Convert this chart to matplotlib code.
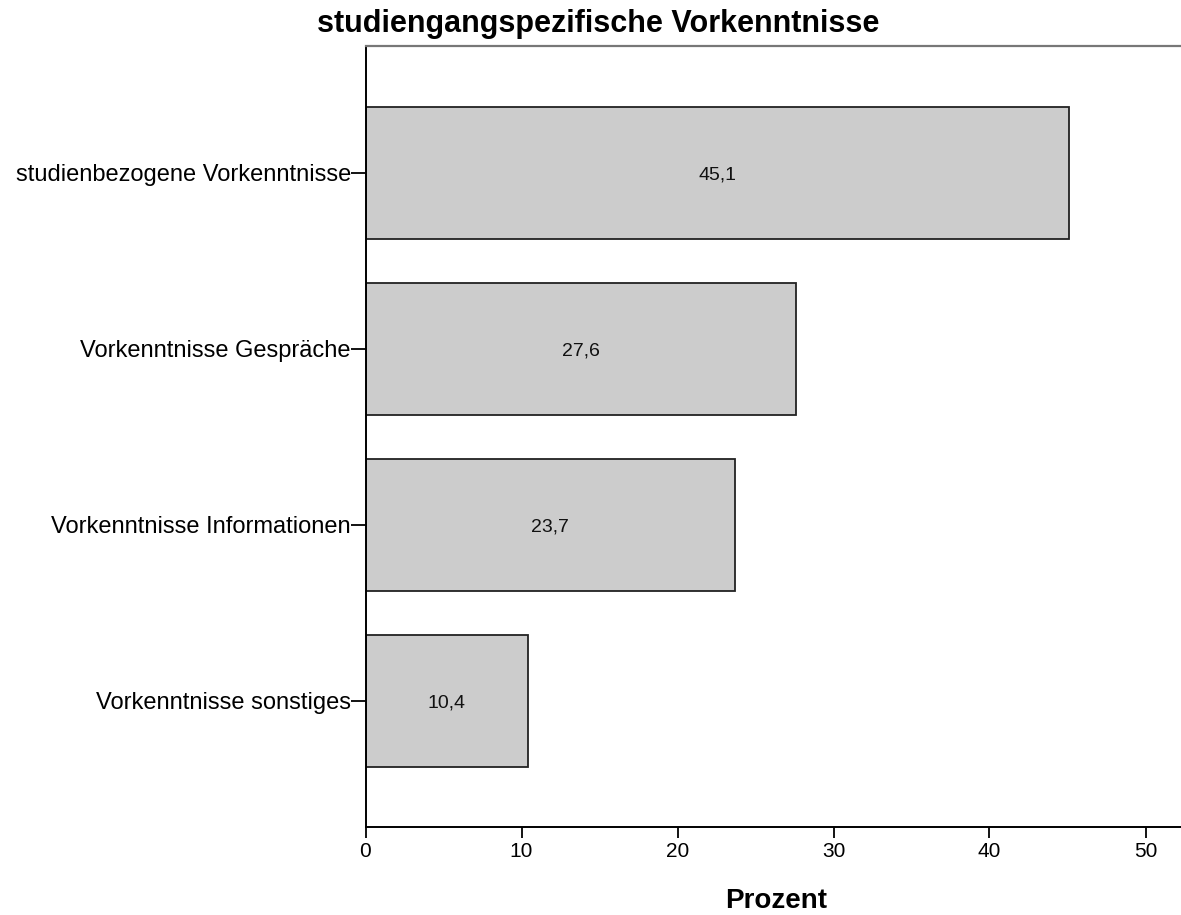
import matplotlib
matplotlib.use("Agg")
import matplotlib.pyplot as plt

plt.rcParams['font.family'] = ['Liberation Sans', 'DejaVu Sans']

# data
categories = ["studienbezogene Vorkenntnisse", "Vorkenntnisse Gespräche",
              "Vorkenntnisse Informationen", "Vorkenntnisse sonstiges"]
values = [45.1, 27.6, 23.7, 10.4]
xticks = [0, 10, 20, 30, 40, 50]

W, H = 1181, 915
fig = plt.figure(figsize=(W / 100, H / 100), dpi=100)
# axes runs past the right edge of the picture, like the original
ax = fig.add_axes([365.5 / W, (H - 827) / H, 53 * 15.6 / W, 781 / H])

pos = list(range(len(categories)))
ax.barh(pos, values, height=0.75, color="#cccccc", edgecolor="#222222", linewidth=1.3)
for p, v in zip(pos, values):
    ax.text(v / 2, p, "{:.1f}".format(v).replace(".", ","), ha="center",
            va="center_baseline", fontsize=14, color="#111111")

ax.set_xlim(0, 53)
ax.set_ylim(3.716, -0.72)
ax.set_yticks(pos)
ax.set_yticklabels(categories, fontsize=17)
ax.set_xticks(xticks)
ax.set_xticklabels([str(t) for t in xticks], fontsize=15)
ax.tick_params(axis="y", length=10.5, width=1.3, pad=0)
ax.tick_params(axis="x", length=8, width=1.3, pad=3)

ax.spines["right"].set_visible(False)
ax.spines["top"].set_color("#777777")
ax.spines["top"].set_linewidth(1.6)
ax.spines["left"].set_linewidth(1.4)
ax.spines["bottom"].set_linewidth(1.4)

fig.text(598 / W, 1 - 32 / H, "studiengangspezifische Vorkenntnisse",
         ha="center", va="baseline", fontsize=22, fontweight="bold")
fig.text(776 / W, 1 - 908 / H, "Prozent", ha="center", va="baseline",
         fontsize=20, fontweight="bold")

fig.savefig("out.png", dpi=100)
